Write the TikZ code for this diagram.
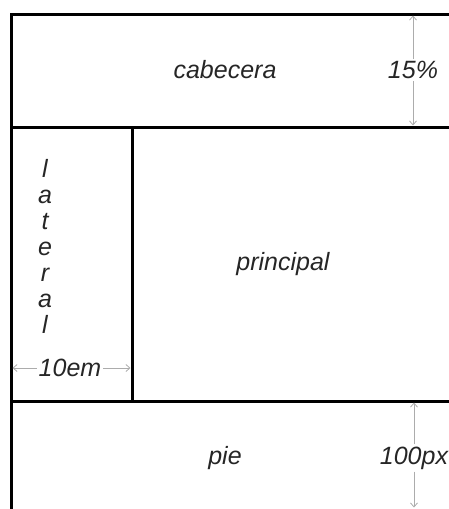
\documentclass[tikz,border=0pt]{standalone}
\usepackage{fontspec}
\setsansfont{Liberation Sans}
\usetikzlibrary{arrows.meta}
\begin{document}
\begin{tikzpicture}[
    x=1pt,y=-1pt,
    frame/.style={line width=3pt},
    label/.style={font=\fontsize{25}{26}\selectfont\sffamily\itshape,text=black!85,inner sep=2pt},
    dim/.style={draw=gray!65,line width=0.8pt,shorten >=1.5pt},
    >={Straight Barb[length=4pt,width=7pt]}
]
\useasboundingbox (0,0) rectangle (449,509);
\coordinate (top-l) at (11,14);
\coordinate (top-r) at (449,14);
\coordinate (head-l) at (11,127);
\coordinate (head-r) at (449,127);
\coordinate (foot-l) at (11,401);
\coordinate (foot-r) at (449,401);
\coordinate (bot-l) at (11,509);
\coordinate (side-t) at (132,127);
\coordinate (side-b) at (132,401);

% layout frame
\draw[frame] (top-r) -- (top-l) -- (bot-l);
\draw[frame] (head-l) -- (head-r);
\draw[frame] (foot-l) -- (foot-r);
\draw[frame] (side-t) -- (side-b);

\node[label] (cabecera) at (225,70) {cabecera};
\node[label] (principal) at (283,264) {principal};
\node[label] (pie) at (225,458) {pie};
\node[label,align=center] (lateral) at (45,246) {l\\a\\t\\e\\r\\a\\l};

% measures
\node[label] (alto) at (413,70) {15\%};
\node[label] (altopie) at (414,458) {100px};
\node[label] (ancho) at (70,368) {10em};

\draw[dim,->] (alto) -- (alto |- top-l);
\draw[dim,->] (alto) -- (alto |- head-l);
\draw[dim,->] (altopie) -- (altopie |- foot-l);
\draw[dim,->] (altopie) -- (altopie |- bot-l);
\draw[dim,->] (ancho) -- (ancho -| head-l);
\draw[dim,->] (ancho) -- (ancho -| side-t);
\end{tikzpicture}
\end{document}
